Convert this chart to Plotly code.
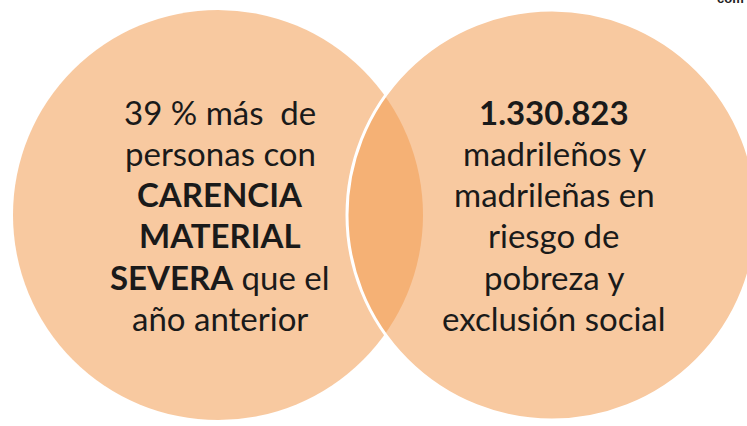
import plotly.graph_objects as go

# --- data (text content of the two Venn sets) ---
left_lines = ["39 % más  de", "personas con", "<b>CARENCIA</b>", "<b>MATERIAL</b>",
              "<b>SEVERA</b> que el", "año anterior"]
right_lines = ["<b>1.330.823</b>", "madrileños y", "madrileñas en", "riesgo de",
               "pobreza y", "exclusión social"]
corner_text = ["<b>com</b>"]

# --- layout geometry (pixel-like coordinate system) ---
W, H = 747, 426
left_center = (218, 215)
right_center = (552, 215)
radius = 205
first_baseline = 125
line_step = 41.2

fill = "rgba(242,157,82,0.55)"
font_family = "Lato, Carlito, Calibri, sans-serif"
font_size = 33

fig = go.Figure()

fig.add_shape(type="circle", xref="x", yref="y",
              x0=left_center[0] - radius, x1=left_center[0] + radius,
              y0=left_center[1] - radius, y1=left_center[1] + radius,
              fillcolor=fill, line=dict(width=0), layer="below")
fig.add_shape(type="circle", xref="x", yref="y",
              x0=right_center[0] - radius, x1=right_center[0] + radius,
              y0=right_center[1] - radius, y1=right_center[1] + radius,
              fillcolor=fill, line=dict(color="white", width=3), layer="below")

def add_lines(lines, cx):
    for i, t in enumerate(lines):
        fig.add_annotation(x=cx, y=first_baseline + i * line_step - 0.4 * font_size,
                           xref="x", yref="y",
                           text=t, showarrow=False, xanchor="center", yanchor="middle",
                           font=dict(family=font_family, size=font_size, color="#1a1a1a"))

add_lines(left_lines, 220)
add_lines(right_lines, 554)

fig.add_annotation(x=746, y=8, xref="x", yref="y", text=corner_text[0], showarrow=False,
                   xanchor="right", yanchor="bottom",
                   font=dict(family="Liberation Sans, Arial", size=13, color="#222"))

fig.update_xaxes(range=[0, W], visible=False, fixedrange=True)
fig.update_yaxes(range=[H, 0], visible=False, fixedrange=True)
fig.update_layout(width=W, height=H, margin=dict(l=0, r=0, t=0, b=0),
                  paper_bgcolor="white", plot_bgcolor="white", showlegend=False)

fig.write_html("out.html", config={"displayModeBar": False},
               post_script="document.body.style.margin='0';")
